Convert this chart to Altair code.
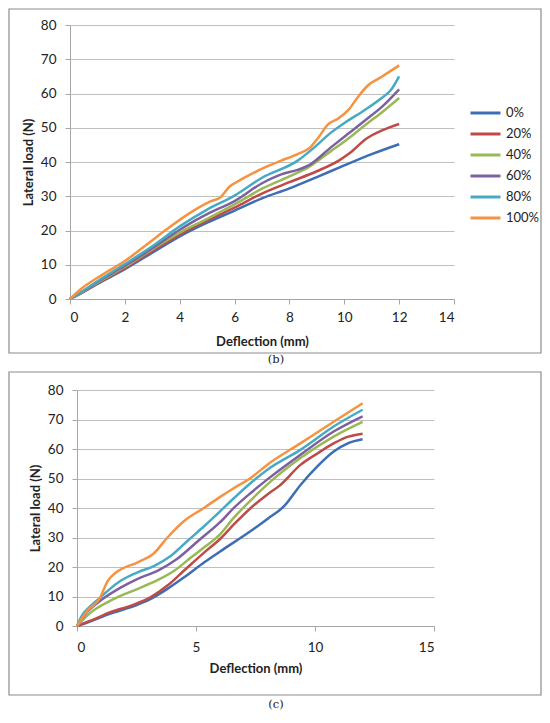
import altair as alt
import pandas as pd

SERIES = ["0%", "20%", "40%", "60%", "80%", "100%"]
COLORS = ["#3D6EB4", "#BE4B48", "#98B954", "#7D60A0", "#46AAC5", "#F69240"]
Y_TICKS = [0, 10, 20, 30, 40, 50, 60, 70, 80]
B_X_TICKS = [0, 2, 4, 6, 8, 10, 12, 14]
C_X_TICKS = [0, 5, 10, 15]

# ---- panel (b) ----
b0_x = [0, 0.5, 1, 2, 3, 4, 5, 6, 7, 8, 9, 10, 11, 12]
b0_y = [0, 2.1, 4.4, 8.7, 13.5, 18.3, 22.3, 25.8, 29.4, 32.3, 35.6, 39.0, 42.3, 45.2]
b20_x = [0, 0.5, 1, 2, 3, 4, 5, 6, 7, 8, 9, 9.8, 10.2, 10.8, 11.4, 12]
b20_y = [0, 2.2, 4.6, 9.0, 14.0, 18.8, 22.9, 26.7, 30.8, 34.1, 37.3, 40.4, 42.6, 46.8, 49.3, 51.1]
b40_x = [0, 0.5, 1, 2, 3, 4, 5, 6, 7, 8, 8.7, 9.5, 10.1, 10.8, 11.4, 12]
b40_y = [0, 2.3, 4.8, 9.4, 14.5, 19.4, 23.4, 27.6, 32.2, 35.8, 38.5, 43.1, 46.6, 51.0, 54.7, 58.7]
b60_x = [0, 0.5, 1, 2, 3, 4, 4.6, 5, 6, 7, 7.7, 8.3, 8.7, 9.5, 10.1, 10.8, 11.4, 12]
b60_y = [0, 2.4, 5.0, 9.7, 14.8, 20.2, 23.1, 24.8, 28.6, 33.8, 36.4, 37.7, 39.0, 44.2, 48.0, 52.4, 56.3, 61.2]
b80_x = [0, 0.5, 1, 2, 3, 4, 5, 6, 7, 8.3, 8.9, 9.5, 10.1, 10.75, 11.35, 11.7, 12]
b80_y = [0, 2.5, 5.2, 10.2, 15.4, 21.2, 26.1, 30.2, 35.4, 40.4, 44.2, 48.5, 51.9, 55.2, 58.6, 61.0, 65.0]
b100_x = [0, 0.4, 1.2, 2, 2.8, 3.5, 4.35, 5.1, 5.5, 5.8, 6.2, 6.5, 7.1, 7.7, 8.3, 8.75,
          9.05, 9.4, 9.8, 10.15, 10.5, 10.87, 11.35, 12]
b100_y = [0, 2.9, 7.2, 11.1, 15.9, 20.2, 25.0, 28.4, 29.8, 32.7, 34.7, 36.0, 38.4, 40.4, 42.3, 44.2,
          47.1, 50.9, 52.8, 55.2, 59.0, 62.4, 64.8, 68.2]

# ---- panel (c) ----
c0_x = [0, 0.6, 1.4, 2.3, 3.1, 3.8, 4.5, 5.35, 6, 7.3, 8.0, 8.7, 9.4, 10.1, 10.8, 11.4, 12]
c0_y = [0, 1.7, 4.2, 6.5, 9.2, 12.6, 16.5, 21.6, 25.2, 32.2, 36.3, 40.6, 47.9, 54.1, 59.2, 62.0, 63.3]
c20_x = [0, 0.6, 1.4, 2.3, 3.1, 3.8, 4.5, 5.4, 6, 6.6, 7.3, 8, 8.5, 9.4, 10.1, 10.8, 11.4, 12]
c20_y = [0, 1.9, 4.7, 7.0, 9.8, 13.7, 18.8, 25.3, 29.4, 34.5, 40.0, 44.6, 47.5, 54.7, 58.5, 62.0, 64.2, 65.2]
c40_x = [0, 0.6, 1.15, 1.85, 2.55, 3.4, 4.1, 4.8, 5.4, 6, 6.6, 7.3, 8, 9.4, 10.8, 12]
c40_y = [0, 4.7, 7.5, 10.3, 12.6, 15.6, 18.8, 23.3, 27.0, 31.0, 36.8, 42.6, 48.0, 57.0, 64.3, 69.2]
c60_x = [0, 0.4, 1, 1.85, 2.55, 3.4, 4.2, 5.1, 6, 6.6, 7.3, 8, 9.4, 10.8, 12]
c60_y = [0, 4.5, 8.7, 13.1, 16.0, 18.8, 22.7, 28.9, 35.1, 40.1, 45.1, 49.7, 58.1, 66.0, 71.1]
c80_x = [0, 0.17, 0.6, 1, 1.3, 1.85, 2.55, 3.25, 3.95, 4.65, 5.35, 6, 6.6, 7.3, 8, 9.4, 10.8, 12]
c80_y = [0, 3.0, 7.0, 9.8, 12.0, 15.4, 18.2, 20.4, 23.8, 28.9, 33.9, 38.8, 43.4, 48.5, 53.0, 59.8, 67.7, 73.3]
c100_x = [0, 0.45, 0.94, 1.3, 1.65, 2.55, 3.2, 3.8, 4.5, 5.35, 6, 6.6, 7.3, 8, 9.4, 10.8, 12]
c100_y = [0, 5.3, 9.2, 15.4, 18.2, 21.6, 24.4, 30.0, 35.6, 40.1, 43.7, 46.8, 50.2, 54.7, 62.0, 69.3, 75.5]


def table(pairs):
    rows = []
    for name, xs, ys in pairs:
        for xv, yv in zip(xs, ys):
            rows.append({"series": name, "x": xv, "y": yv})
    return pd.DataFrame(rows)


df_b = table([("0%", b0_x, b0_y), ("20%", b20_x, b20_y), ("40%", b40_x, b40_y),
              ("60%", b60_x, b60_y), ("80%", b80_x, b80_y), ("100%", b100_x, b100_y)])
df_c = table([("0%", c0_x, c0_y), ("20%", c20_x, c20_y), ("40%", c40_x, c40_y),
              ("60%", c60_x, c60_y), ("80%", c80_x, c80_y), ("100%", c100_x, c100_y)])


def panel(df, x_ticks, x_max, w, h, x_start, leg_x, leg_y, box, caption, cap_xy,
          xlab_pad, xtitle_pad, ylab_pad, ytitle_pad):
    lines = alt.Chart(df).mark_line(strokeWidth=2.5, interpolate="monotone").encode(
        x=alt.X("x:Q", scale=alt.Scale(domain=[0, x_max], range=[x_start, w], nice=False),
                axis=alt.Axis(values=x_ticks, title="Deflection (mm)", grid=False,
                              labelPadding=xlab_pad, titlePadding=xtitle_pad)),
        y=alt.Y("y:Q", scale=alt.Scale(domain=[0, 80], nice=False),
                axis=alt.Axis(values=Y_TICKS, title="Lateral load (N)", grid=True,
                              offset=-x_start,
                              labelPadding=ylab_pad, titlePadding=ytitle_pad)),
        color=alt.Color("series:N", sort=SERIES,
                        scale=alt.Scale(domain=SERIES, range=COLORS),
                        legend=alt.Legend(title=None, orient="none", legendX=leg_x, legendY=leg_y,
                                          symbolType="M-1.25,0H1.25", symbolSize=576,
                                          symbolStrokeWidth=3, labelFont="Lato",
                                          labelFontSize=13, labelColor="#222222",
                                          labelOffset=7, rowPadding=0, padding=0)),
    )
    frame = alt.Chart(alt.Data(values=[{}])).mark_rect(
        fill="transparent", stroke="#8C8C8C", strokeWidth=1.2
    ).encode(x=alt.value(box[0]), x2=alt.value(box[1]), y=alt.value(box[2]), y2=alt.value(box[3]))
    cap = alt.Chart(alt.Data(values=[{}])).mark_text(
        font="DejaVu Serif", fontSize=11.5, align="center", baseline="middle", color="#222222"
    ).encode(x=alt.value(cap_xy[0]), y=alt.value(cap_xy[1]), text=alt.value(caption))
    return alt.layer(frame, lines, cap).properties(width=w, height=h)


pb = panel(df_b, B_X_TICKS, 14, 384, 274, 0, 402, 74.5, (-61, 471, -16, 328), "(b)", (206, 335),
           6, 12, 9, 5)
pc = panel(df_c, C_X_TICKS, 15, 364, 236, 7, 397, 63.5, (-61, 471, -18, 305), "(c)", (206, 315),
           9, 9, 9, 5)

chart = alt.vconcat(pb, pc, spacing=5).properties(
    padding=0
).configure_axis(
    labelFont="Lato", labelFontSize=13.5, labelColor="#222222",
    titleFont="Lato", titleFontSize=13, titleFontWeight="bold", titleColor="#222222",
    gridColor="#BFBFBF", gridWidth=1, domainColor="#A6A6A6", tickColor="#A6A6A6", tickSize=5,
).configure_view(strokeWidth=0)

chart.save("out.html", embed_options={"renderer": "svg", "actions": False})
